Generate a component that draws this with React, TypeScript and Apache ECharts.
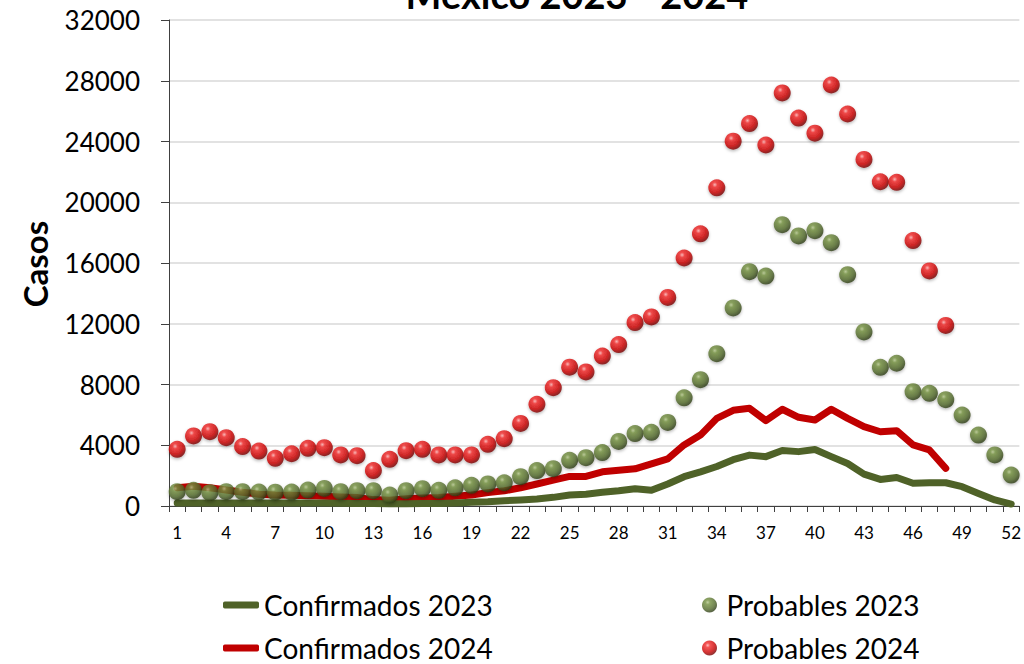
import React, { useEffect, useRef } from "react";
import * as echarts from "echarts";

const weeks: string[] = Array.from({ length: 52 }, (_, i) => String(i + 1));

const confirmados2023: number[] = [
  200, 200, 200, 200, 200, 200, 200, 200, 200, 200,
  180, 170, 160, 150, 150, 160, 170, 200, 250, 280,
  350, 400, 460, 570, 720, 780, 900, 1000, 1130, 1030,
  1450, 1930, 2250, 2600, 3050, 3350, 3250, 3650, 3580, 3720,
  3250, 2800, 2100, 1750, 1880, 1500, 1530, 1530, 1270, 830,
  400, 130,
];

const confirmados2024: number[] = [
  1200, 1300, 1200, 1050, 900, 780, 720, 700, 680, 650,
  600, 560, 420, 380, 480, 520, 560, 640, 720, 880,
  1000, 1200, 1450, 1700, 1950, 1950, 2250, 2350, 2450, 2780,
  3100, 4020, 4670, 5770, 6300, 6430, 5620, 6370, 5840, 5660,
  6370, 5770, 5220, 4890, 4960, 4020, 3690, 2480,
];

const probables2023: number[] = [
  940, 1030, 880, 940, 940, 920, 910, 920, 1050, 1160,
  940, 1010, 1010, 720, 1010, 1140, 1030, 1200, 1360, 1450,
  1530, 1930, 2330, 2460, 3010, 3180, 3520, 4250, 4770, 4850,
  5500, 7120, 8320, 10030, 13040, 15430, 15140, 18520, 17780, 18130,
  17340, 15230, 11460, 9130, 9400, 7530, 7420, 7000, 5990, 4670,
  3360, 2040,
];

const probables2024: number[] = [
  3730, 4610, 4890, 4500, 3910, 3620, 3140, 3440, 3800, 3840,
  3360, 3310, 2330, 3070, 3640, 3730, 3360, 3360, 3360, 4060,
  4430, 5440, 6700, 7790, 9140, 8830, 9870, 10630, 12080, 12450,
  13730, 16330, 17920, 20950, 24020, 25180, 23770, 27200, 25540, 24550,
  27720, 25810, 22820, 21350, 21310, 17480, 15480, 11890,
];

const titleText = "México 2023 - 2024";
const yAxisTitle = "Casos";
const names = {
  c23: "Confirmados 2023",
  c24: "Confirmados 2024",
  p23: "Probables 2023",
  p24: "Probables 2024",
};

const FONT = "Lato";
const GREEN = "#4f6228";
const RED = "#c00000";

const redSphere = {
  type: "radial",
  x: 0.38,
  y: 0.32,
  r: 0.68,
  colorStops: [
    { offset: 0, color: "#ffb0b0" },
    { offset: 0.22, color: "#f22a2a" },
    { offset: 0.7, color: "#c80000" },
    { offset: 1, color: "#780000" },
  ],
};

const greenSphere = {
  type: "radial",
  x: 0.38,
  y: 0.32,
  r: 0.68,
  colorStops: [
    { offset: 0, color: "#b3c58a" },
    { offset: 0.22, color: "#73903f" },
    { offset: 0.7, color: "#52692a" },
    { offset: 1, color: "#2e3d16" },
  ],
};

export default function App() {
  const ref = useRef<HTMLDivElement>(null);

  useEffect(() => {
    if (!ref.current) return;
    const chart = echarts.init(ref.current, null, { renderer: "svg" });
    const legendText = { fontFamily: FONT, fontSize: 28, color: "#000", lineHeight: 30 };
    chart.setOption({
      animation: false,
      backgroundColor: "#ffffff",
      textStyle: { fontFamily: FONT },
      grid: { left: 169, right: 1, top: 20, bottom: 158, containLabel: false },
      xAxis: {
        type: "category",
        data: weeks,
        boundaryGap: true,
        axisLine: { show: true, lineStyle: { color: "#404040", width: 1 } },
        axisTick: { show: true, interval: 0, length: 6, lineStyle: { color: "#404040" } },
        axisLabel: { interval: 2, fontSize: 17, color: "#000", margin: 18, fontFamily: FONT },
        splitLine: { show: false },
      },
      yAxis: {
        type: "value",
        min: 0,
        max: 32000,
        interval: 4000,
        axisLine: { show: true, lineStyle: { color: "#404040", width: 1 } },
        axisTick: { show: true, inside: false, length: 8, lineStyle: { color: "#404040" } },
        axisLabel: {
          fontSize: 26,
          color: "#000",
          margin: 29,
          fontFamily: FONT,
          formatter: (v: number) => String(v),
        },
        splitLine: { show: true, lineStyle: { color: "#d9d9d9", width: 1.5 } },
      },
      legend: [
        {
          data: [{ name: names.c23, icon: "roundRect" }],
          left: 223, top: 590, itemWidth: 36, itemHeight: 7, itemGap: 0, padding: 0,
          textStyle: legendText, selectedMode: false,
        },
        {
          data: [{ name: names.c24, icon: "roundRect" }],
          left: 223, top: 633, itemWidth: 36, itemHeight: 7, itemGap: 0, padding: 0,
          textStyle: legendText, selectedMode: false,
        },
        {
          data: [{ name: names.p23, icon: "circle" }],
          left: 702, top: 590, itemWidth: 24, itemHeight: 15, itemGap: 0, padding: 0,
          textStyle: legendText, selectedMode: false,
        },
        {
          data: [{ name: names.p24, icon: "circle" }],
          left: 702, top: 633, itemWidth: 24, itemHeight: 15, itemGap: 0, padding: 0,
          textStyle: legendText, selectedMode: false,
        },
      ],
      graphic: [
        {
          type: "text",
          x: 577,
          y: -6,
          style: {
            text: titleText,
            fontFamily: FONT,
            fontWeight: "bold",
            fontSize: 38,
            fill: "#000",
            align: "center",
            verticalAlign: "middle",
          },
        },
        {
          type: "text",
          x: 35,
          y: 264,
          rotation: Math.PI / 2,
          style: {
            text: yAxisTitle,
            fontFamily: FONT,
            fontWeight: "bold",
            fontSize: 33,
            fill: "#000",
            align: "center",
            verticalAlign: "middle",
          },
        },
      ],
      series: [
        {
          name: names.c24,
          type: "line",
          data: confirmados2024,
          showSymbol: false,
          symbol: "none",
          lineStyle: { color: RED, width: 7, cap: "round", join: "round" },
          itemStyle: { color: RED },
          z: 2,
        },
        {
          name: names.c23,
          type: "line",
          data: confirmados2023,
          showSymbol: false,
          symbol: "none",
          lineStyle: { color: GREEN, width: 7, cap: "round", join: "round" },
          itemStyle: { color: GREEN },
          z: 3,
        },
        {
          name: names.p23,
          type: "scatter",
          data: probables2023,
          symbol: "circle",
          symbolSize: 17,
          itemStyle: {
            color: greenSphere,
            shadowBlur: 3,
            shadowColor: "rgba(0,0,0,0.35)",
            shadowOffsetY: 1.5,
          },
          z: 4,
        },
        {
          name: names.p24,
          type: "scatter",
          data: probables2024,
          symbol: "circle",
          symbolSize: 17,
          itemStyle: {
            color: redSphere,
            shadowBlur: 3,
            shadowColor: "rgba(0,0,0,0.35)",
            shadowOffsetY: 1.5,
          },
          z: 5,
        },
      ],
    });
    return () => chart.dispose();
  }, []);

  return (
    <div
      ref={ref}
      style={{ position: "fixed", left: 0, top: 0, width: 1024, height: 664, background: "#fff" }}
    />
  );
}
